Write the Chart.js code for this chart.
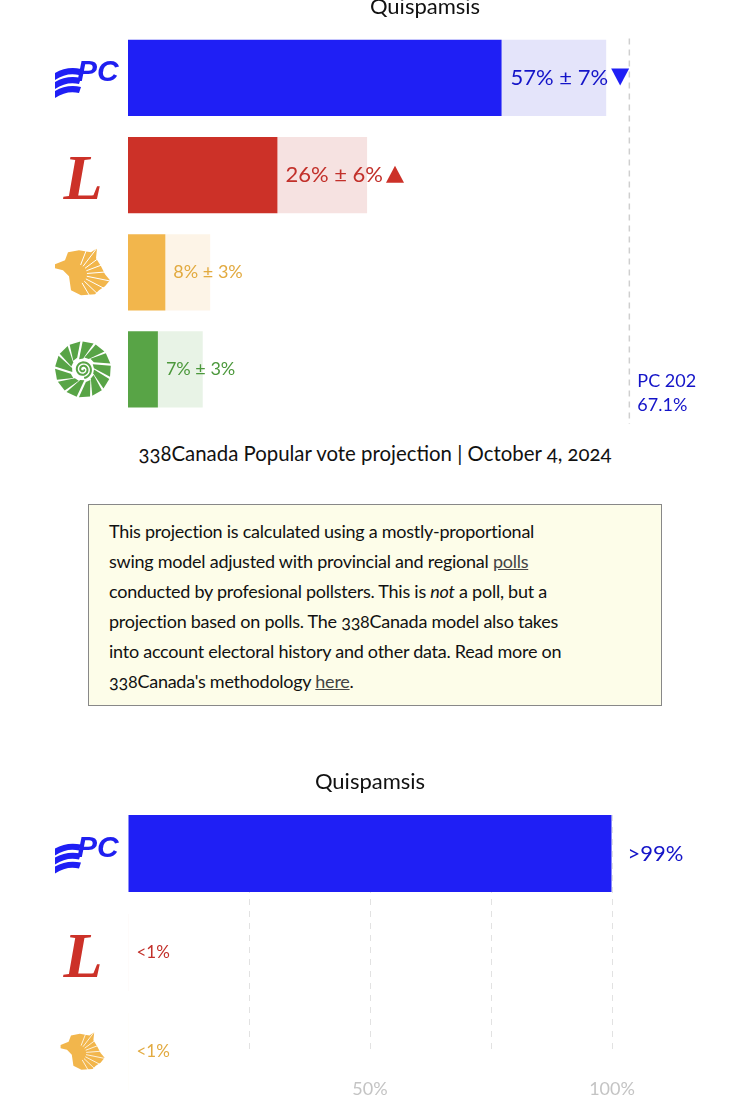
<!DOCTYPE html>
<html>
<head>
<meta charset="utf-8">
<script src="https://cdn.jsdelivr.net/npm/chart.js@4.4.1/dist/chart.umd.min.js"></script>
<style>
    body { margin: 0; background: #fff; width: 750px; height: 1111px; overflow: hidden; position: relative; font-family: Lato, "Open Sans", sans-serif; color: #111; }
    .chart-wrap { position: absolute; left: 0; width: 750px; }
    #voteWrap { top: -6px; height: 430px; }
    #oddsWrap { top: 760px; height: 376px; }
    #caption { position: absolute; top: 441px; left: 0; width: 750px; text-align: center; font-size: 20.4px; font-variant-numeric: oldstyle-nums; }
    #note { position: absolute; left: 88px; top: 504px; width: 532px; height: 180px; padding: 11px 20px 9px 20px; border: 1px solid #888; background: #fdfde9; font-size: 18px; letter-spacing: -0.25px; line-height: 30px; white-space: nowrap; font-variant-numeric: oldstyle-nums; }
    #note a { color: #444; text-decoration: underline; }
</style>
</head>
<body>
<div class="chart-wrap" id="voteWrap"><canvas id="voteChart"></canvas></div>
<div id="caption">338Canada Popular vote projection | October 4, 2024</div>
<div id="note">This projection is calculated using a mostly-proportional<br>swing model adjusted with provincial and regional <a>polls</a><br>conducted by profesional pollsters. This is <i>not</i> a poll, but a<br>projection based on polls. The 338Canada model also takes<br>into account electoral history and other data. Read more on<br>338Canada's methodology <a>here</a>.</div>
<div class="chart-wrap" id="oddsWrap"><canvas id="oddsChart"></canvas></div>

<script>
// popular vote projection
const riding = 'Quispamsis';
const voteParties = ['PC', 'LIB', 'NDP', 'GRN'];
const voteShare = [57, 26, 8, 7];
const voteError = [7, 6, 3, 3];
const voteTrend = ['down', 'up', '', ''];
const prevResult = 67.1;
const prevLabel = ['PC 202', '67.1%'];

// odds of winning
const oddsParties = ['PC', 'LIB', 'NDP'];
const oddsValues = [99.9, 0.1, 0.1];
const oddsLabels = ['>99%', '<1%', '<1%'];
const oddsTicks = [50, 100];

const partyColors = {
    PC:  { bar: '#1f1ff5', light: '#e4e4fa', text: '#1414c8' },
    LIB: { bar: '#cc3128', light: '#f6e2e1', text: '#c2302a' },
    NDP: { bar: '#f2b64c', light: '#fdf4e7', text: '#e2aa40' },
    GRN: { bar: '#58a446', light: '#e8f3e6', text: '#4c983c' }
};

Chart.defaults.font.family = 'Lato, "Open Sans", sans-serif';
Chart.defaults.animation = false;

function drawLogo(ctx, party, cx, cy, s) {
    ctx.save();
    ctx.translate(cx, cy);
    ctx.scale(s, s);
    var c = partyColors[party].bar;
    ctx.fillStyle = c;
    if (party === 'PC') {
        //wavy flag stripes
        for (var k = 0; k < 3; k++) {
            var y0 = -9 + k * 9;
            ctx.beginPath();
            ctx.moveTo(-28, y0 + 4);
            ctx.quadraticCurveTo(-16, y0 - 3, -2, y0);
            ctx.lineTo(-4, y0 + 6);
            ctx.quadraticCurveTo(-16, y0 + 3, -28, y0 + 11);
            ctx.closePath();
            ctx.fill();
        }
        ctx.font = 'italic bold 30px "Liberation Sans"';
        ctx.textBaseline = 'middle';
        ctx.fillStyle = '#1f1ff0';
        ctx.fillText('PC', -6, -5);
    } else if (party === 'LIB') {
        ctx.font = 'italic bold 64px "Liberation Serif"';
        ctx.textAlign = 'center';
        ctx.textBaseline = 'alphabetic';
        ctx.fillText('L', 0, 24);
    } else if (party === 'NDP') {
        var pts = [[-28,-8],[-18,-12],[-15,-20],[-4,-22],[8,-20],[14,-24],[13,-14],[18,-6],[22,2],[27,8],[22,14],[16,18],[12,22],[-2,23],[-12,18],[-14,4],[-20,-2],[-28,-4]];
        ctx.beginPath();
        pts.forEach(function (p, i) { if (i === 0) ctx.moveTo(p[0], p[1]); else ctx.lineTo(p[0], p[1]); });
        ctx.closePath();
        ctx.fill();
        //sun rays
        ctx.strokeStyle = '#fff';
        ctx.lineWidth = 1;
        for (var r = 0; r < 9; r++) {
            var a = -1.2 + r * 0.28;
            ctx.beginPath();
            ctx.moveTo(-6 + Math.cos(a) * 10, 16 + Math.sin(a) * 10 - 14);
            ctx.lineTo(-6 + Math.cos(a) * 40, 16 + Math.sin(a) * 40 - 14);
            ctx.stroke();
        }
    } else if (party === 'GRN') {
        for (var i = 0; i < 13; i++) {
            var a0 = i * Math.PI * 2 / 13;
            var r1 = 11 + (i % 3), r2 = 28;
            ctx.beginPath();
            ctx.moveTo(Math.cos(a0) * r1, Math.sin(a0) * r1);
            ctx.lineTo(Math.cos(a0 + 0.35) * r2, Math.sin(a0 + 0.35) * r2);
            ctx.lineTo(Math.cos(a0 + 0.75) * r2, Math.sin(a0 + 0.75) * r2);
            ctx.lineTo(Math.cos(a0 + 0.38) * r1, Math.sin(a0 + 0.38) * r1);
            ctx.closePath();
            ctx.fill();
        }
        ctx.strokeStyle = c;
        ctx.lineWidth = 2;
        ctx.beginPath();
        for (var t = 0; t < 14; t += 0.2) {
            var rr = 1 + t * 0.55;
            ctx.lineTo(Math.cos(t) * rr, Math.sin(t) * rr);
        }
        ctx.stroke();
    }
    ctx.restore();
}

// logos on the left and value labels next to the bars
const partyMarks = {
    id: 'partyMarks',
    afterDatasetsDraw(chart, args, opts) {
        var ctx = chart.ctx, x = chart.scales.x, y = chart.scales.y;
        opts.parties.forEach(function (p, i) {
            var yc = y.getPixelForValue(i);
            drawLogo(ctx, p, 83, yc, opts.logoScale[i]);
            var size = opts.fontSizes[i];
            var xs = x.getPixelForValue(opts.anchor[i]) + opts.gap[i];
            ctx.save();
            ctx.font = size + 'px Lato';
            ctx.fillStyle = partyColors[p].text;
            ctx.textBaseline = 'middle';
            ctx.fillText(opts.labels[i], xs, yc);
            var w = ctx.measureText(opts.labels[i]).width;
            var tr = opts.trend ? opts.trend[i] : '';
            if (tr) {
                var tx = xs + w + 12, h = 17;
                ctx.fillStyle = partyColors[p].bar;
                ctx.beginPath();
                if (tr === 'down') {
                    ctx.moveTo(tx - 9, yc - h / 2 - 1);
                    ctx.lineTo(tx + 9, yc - h / 2 - 1);
                    ctx.lineTo(tx, yc + h / 2 - 1);
                } else {
                    ctx.moveTo(tx - 9, yc + h / 2 - 1);
                    ctx.lineTo(tx + 9, yc + h / 2 - 1);
                    ctx.lineTo(tx, yc - h / 2 - 1);
                }
                ctx.closePath();
                ctx.fill();
            }
            ctx.restore();
        });
    }
};

// dashed marker for the previous election result
const prevMarker = {
    id: 'prevMarker',
    afterDatasetsDraw(chart, args, opts) {
        if (!opts.value) return;
        var ctx = chart.ctx, area = chart.chartArea;
        var px = chart.scales.x.getPixelForValue(opts.value);
        ctx.save();
        ctx.strokeStyle = '#cfcfcf';
        ctx.lineWidth = 1.5;
        ctx.setLineDash([6, 5]);
        ctx.beginPath();
        ctx.moveTo(px, area.top + 9);
        ctx.lineTo(px, area.bottom + 10);
        ctx.stroke();
        ctx.font = '18px Lato';
        ctx.fillStyle = partyColors.PC.text;
        ctx.textBaseline = 'middle';
        ctx.fillText(opts.labels[0], px + 8, area.bottom - 37);
        ctx.fillText(opts.labels[1], px + 8, area.bottom - 13);
        ctx.restore();
    }
};

new Chart(document.getElementById('voteChart'), {
    type: 'bar',
    data: {
        labels: voteParties,
        datasets: [{
            label: 'projection',
            data: voteShare.map(function (v, i) { return v - voteError[i]; }),
            backgroundColor: voteParties.map(function (p) { return partyColors[p].bar; }),
            barPercentage: 0.785,
            categoryPercentage: 1
        }, {
            label: 'margin',
            data: voteError.map(function (e) { return 2 * e; }),
            backgroundColor: voteParties.map(function (p) { return partyColors[p].light; }),
            barPercentage: 0.785,
            categoryPercentage: 1
        }]
    },
    options: {
        indexAxis: 'y',
        responsive: true,
        maintainAspectRatio: false,
        layout: { padding: { left: 128, right: 28, bottom: 6 } },
        scales: {
            x: { stacked: true, min: 0, max: 79.5, display: false },
            y: { stacked: true, display: false }
        },
        plugins: {
            legend: { display: false },
            tooltip: { enabled: false },
            title: { display: true, text: riding, color: '#111', font: { size: 22, weight: 'normal' }, padding: { top: 0, bottom: 9 } },
            partyMarks: {
                parties: voteParties,
                anchor: voteShare.map(function (v, i) { return v - voteError[i]; }),
                labels: voteShare.map(function (v, i) { return v + '% ± ' + voteError[i] + '%'; }),
                trend: voteTrend,
                gap: [9, 8, 8, 8],
                fontSizes: [22, 22, 18, 18],
                logoScale: [1, 1, 1, 1]
            },
            prevMarker: { value: prevResult, labels: prevLabel }
        }
    },
    plugins: [partyMarks, prevMarker]
});

new Chart(document.getElementById('oddsChart'), {
    type: 'bar',
    data: {
        datasets: [{
            label: 'odds',
            data: oddsValues.map(function (v, i) { return { x: v, y: i }; }),
            backgroundColor: oddsParties.map(function (p) { return partyColors[p].bar; }),
            barThickness: 77,
            inflateAmount: 0,
            clip: false
        }]
    },
    options: {
        indexAxis: 'y',
        responsive: true,
        maintainAspectRatio: false,
        layout: { padding: { left: 128, right: 138, bottom: 13 } },
        scales: {
            x: {
                type: 'linear', min: 0, max: 100,
                border: { display: false, dash: [6, 6] },
                grid: {
                    drawTicks: false,
                    color: function (c) { return c.tick && c.tick.value === 0 ? 'rgba(0,0,0,0)' : '#e2e2e2'; }
                },
                ticks: {
                    stepSize: 25,
                    padding: 23,
                    color: '#c4c4c4',
                    font: { size: 18 },
                    callback: function (v) { return oddsTicks.indexOf(v) >= 0 ? v + '%' : ''; }
                }
            },
            y: { type: 'linear', reverse: true, offset: false, min: -0.39, max: 2.04, display: false }
        },
        plugins: {
            legend: { display: false },
            tooltip: { enabled: false },
            title: { display: true, text: riding, color: '#111', font: { size: 22, weight: 'normal' }, padding: { top: 9, bottom: 19.6 } },
            partyMarks: {
                parties: oddsParties,
                anchor: oddsValues,
                labels: oddsLabels,
                trend: null,
                gap: [16, 8, 8],
                fontSizes: [22, 17, 17],
                logoScale: [1, 1, 0.8]
            }
        }
    },
    plugins: [partyMarks]
});
</script>
</body>
</html>
